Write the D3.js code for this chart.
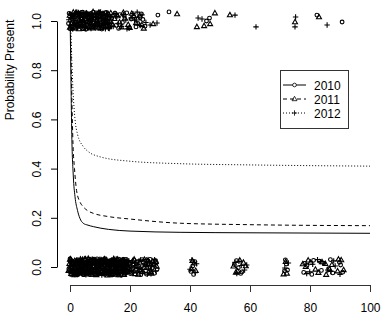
<!DOCTYPE html>
<html><head><meta charset="utf-8">
<script src="https://cdn.jsdelivr.net/npm/d3@7"></script>
<style>
html,body{margin:0;padding:0;background:#fff;}
svg{display:block;font-family:"Liberation Sans",Arial,Helvetica,sans-serif;}
</style></head>
<body><svg id="c" width="392" height="328"></svg>
<script>
// ---- data ----
const years = ["2010", "2011", "2012"];
const xTicks = [0, 20, 40, 60, 80, 100];
const yTicks = [0, 0.2, 0.4, 0.6, 0.8, 1.0];

// fitted curves (x = distance, p = probability present)
const curveX2010 = [0.05, 0.3, 0.56, 1.1, 1.67, 2.5, 3.3, 4.4, 6, 7.8, 12.8, 20, 36.7, 60, 100];
const curveP2010 = [1.0, 0.78, 0.56, 0.37, 0.286, 0.23, 0.198, 0.178, 0.17, 0.164, 0.153, 0.146, 0.141, 0.139, 0.137];
const curveX2011 = [0.05, 0.3, 0.6, 1.0, 1.5, 2.2, 3.3, 4.4, 6, 7.8, 12.8, 20, 36.7, 60, 100];
const curveP2011 = [1.0, 0.88, 0.7, 0.5, 0.4, 0.31, 0.265, 0.245, 0.228, 0.218, 0.205, 0.195, 0.178, 0.172, 0.168];
const curveX2012 = [0.05, 0.3, 0.6, 1.0, 1.67, 2.5, 4.4, 6, 10, 20, 36.7, 60, 100];
const curveP2012 = [1.0, 0.96, 0.84, 0.72, 0.6, 0.54, 0.49, 0.47, 0.448, 0.43, 0.42, 0.415, 0.41];

// observations: absences (y = 0) and presences (y = 1), with plotted jitter
const absX2010 = [0.2,0.9,1.5,2.3,2.8,3.6,4.1,4.9,5.4,6.2,6.8,7.5,8.1,8.7,9.4,10.2,10.8,11.3,12.1,12.6,13.4,14.0,14.7,15.3,16.1,16.6,17.4,18.0,18.7,19.1,
 -0.4,0.5,1.2,1.9,2.6,3.2,3.9,4.5,5.1,5.8,6.5,7.1,7.8,8.4,9.0,9.8,10.5,11.0,11.7,12.4,13.0,13.7,14.4,15.0,15.7,16.4,17.0,17.7,18.3,18.9,
 19.8,20.6,21.3,22.1,22.9,23.6,24.4,25.2,25.9,26.7,27.4,28.2,28.8,21.8,
 40.3,41.6,54.8,56.9,71.8,72.5,78.2,80.6,83.1,86.2,89.8,90.9,
 0.6,1.1,1.8,2.5,3.1,3.7,4.4,5.0,5.7,6.3,7.0,7.6,8.3,8.9,9.5,10.3,10.9,11.6,12.2,12.8,13.5,14.2,14.8,15.6,16.3,16.8,17.6,18.4,19.0,-0.1,
 20.2,21.0,22.5,23.2,24.0,24.8,25.5,26.3,27.0,27.8,28.5,29.0,
 40.9,41.2,55.5,56.1,57.3,71.5,72.1,77.9,79.0,81.2,83.8,84.6,86.8,87.6,90.2,
 0.0,0.7,1.4,2.0,2.7,3.3,4.0,4.6,5.3,5.9,6.6,7.3,7.9,8.6,9.2,9.9,10.5,11.2,11.8,12.5,13.1,13.8,14.5,15.1,15.8,16.5,17.1,17.8,18.5,19.2];
const absJ2010 = [.021,-.014,.003,-.029,.017,.008,-.022,.030,-.006,.012,-.031,.025,-.011,.019,-.002,.027,-.018,.006,-.026,.014,.001,-.033,.023,-.009,.016,-.024,.010,-.004,.031,-.015,
 -.008,.026,-.020,.011,-.032,.004,.018,-.013,.028,-.025,.009,-.003,.022,-.017,.033,-.010,.015,-.028,.024,-.005,.020,.012,-.021,.029,-.012,.005,-.030,.018,-.007,.025,
 .014,-.022,.027,-.009,.003,-.031,.020,-.016,.010,.031,-.004,-.025,.017,.000,
 -.018,.022,.010,-.026,.029,-.012,.015,-.030,.024,-.007,.019,-.021,
 -.001,.018,-.024,.029,-.013,.022,-.031,.007,-.018,.032,-.009,.014,-.027,.003,.023,-.020,.030,-.011,.009,-.030,.026,-.006,.013,-.023,.032,-.016,.004,-.026,.015,-.012,
 -.027,.008,.022,-.014,.030,-.003,-.029,.019,-.019,.012,.026,-.010,
 .004,-.030,.026,-.003,-.020,-.016,.012,-.022,.006,.027,-.014,.016,.030,-.024,.008,
 .033,-.006,-.027,.015,.001,-.019,.027,-.031,.013,.020,-.010,-.024,.031,.009,-.027,.004,-.022,.023,.033,-.017,-.009,.027,-.029,.012,.000,.021,-.034,.031,-.011,.002];
const absX2011 = [0.0,0.6,1.3,2.0,2.5,3.3,3.8,4.6,5.2,5.9,6.6,7.2,7.9,8.5,9.2,9.9,10.6,11.2,11.9,12.5,13.2,13.8,14.5,15.2,15.8,16.5,17.2,17.8,18.5,19.0,
 0.4,1.0,1.7,2.2,3.0,3.5,4.3,4.8,5.6,6.0,6.9,7.4,8.2,8.9,9.6,10.1,10.9,11.5,12.2,12.9,13.5,14.2,14.9,15.5,16.2,16.9,17.5,18.2,18.8,-0.2,
 20.1,20.9,21.7,22.4,23.3,24.0,24.8,25.6,26.3,27.1,27.9,28.6,
 40.8,41.9,55.3,57.8,58.6,71.2,77.6,79.4,81.8,84.0,85.4,87.3,89.2,90.4,
 0.3,0.9,1.6,2.4,2.9,3.6,4.2,4.9,5.5,6.2,6.8,7.5,8.1,8.8,9.4,10.0,10.7,11.3,12.0,12.6,13.3,14.0,14.6,15.3,16.0,16.6,17.3,18.0,18.6,19.2,
 19.7,20.5,21.4,22.8,23.7,25.3,26.0,26.9,27.6,28.9,
 40.5,41.4,54.5,55.9,56.6,71.9,72.3,78.6,80.2,82.8,85.1,86.5,89.5,91.2,
 -0.5,0.2,0.9,1.5,2.2,2.8,3.5,4.1,4.8,5.4,6.1,6.7,7.4,8.0,8.7,9.3,10.0,10.6,11.3,11.9,12.6,13.2,13.9,14.5,15.2,15.8,16.5,17.1,17.8,18.4];
const absJ2011 = [.030,-.019,.007,-.027,.013,-.001,.024,-.015,.032,-.023,.016,-.009,.005,-.031,.021,-.006,.027,-.020,.011,-.034,.019,-.012,.029,.002,-.024,.015,-.017,.026,-.003,.009,
 -.027,.012,-.005,.022,-.016,.031,-.010,.004,-.029,.018,-.021,.028,-.013,.007,-.025,.020,-.001,.032,-.019,.010,-.030,.023,-.008,.017,-.033,.006,.026,-.014,.021,.013,
 -.011,.024,-.028,.006,.019,-.020,.030,-.003,.013,-.026,.008,.021,
 .025,-.015,-.022,.018,.004,-.029,.012,.027,-.010,.020,-.031,.009,-.017,.028,
 .010,-.030,.025,-.016,.002,.019,-.026,.031,-.012,-.002,.027,-.019,.016,-.033,.011,.029,-.014,.021,-.024,.004,.014,-.028,.033,-.018,.008,-.005,.024,-.031,.012,-.021,
 .016,-.007,.031,-.030,-.012,.010,.027,-.020,.023,.002,
 -.008,.015,.003,-.017,.027,.021,-.026,.001,.018,-.023,.013,-.009,.031,-.012,
 -.015,.032,.011,-.033,.025,-.008,-.003,.021,-.022,.006,.034,.002,-.030,.026,-.017,.012,-.026,.000,.029,-.010,.016,-.022,-.004,.020,-.030,.031,.003,-.008,.022,-.018];
const absX2012 = [0.1,0.8,1.4,2.1,2.7,3.4,4.0,4.7,5.3,6.1,6.7,7.3,8.0,8.6,9.3,10.0,10.7,11.4,12.0,12.7,13.3,14.1,14.6,15.4,16.0,16.7,17.3,18.1,18.6,19.3,
 19.6,20.4,21.1,21.9,22.7,23.5,24.2,25.0,25.8,26.5,27.2,28.5,
 40.0,42.2,55.6,56.3,58.9,72.8,79.9,82.5,85.9,88.4,
 -0.3,0.5,1.1,1.8,2.4,3.1,3.7,4.3,5.0,5.6,6.3,6.9,7.6,8.2,8.9,9.5,10.2,10.8,11.5,12.1,12.8,13.4,14.1,14.7,15.4,16.0,16.7,17.4,18.0,18.7,
 0.3,1.0,1.6,2.3,2.9,3.5,4.2,4.8,5.4,6.1,6.7,7.4,8.0,8.7,9.3,9.9,10.6,11.2,11.9,12.5,13.2,13.8,14.5,15.1,15.8,16.4,17.1,17.7,18.4,19.0,
 20.0,20.8,21.6,22.3,23.0,23.9,24.6,25.4,26.2,27.0,27.7,28.2,
 40.6,41.7,55.0,57.1,58.2,71.6,78.9,80.9,83.5,86.9,87.9,90.0];
const absJ2012 = [.004,-.026,.019,-.010,.028,-.021,.013,-.002,-.032,.024,-.016,.009,.031,-.007,-.023,.016,.002,-.030,.027,-.013,.022,-.019,.006,.033,-.027,-.011,.020,.028,-.022,.007,
 .026,-.013,-.024,.017,-.006,.029,-.018,.011,-.029,.022,.003,-.015,
 -.009,.013,-.027,.023,.008,.016,-.020,.030,-.012,.004,
 -.020,.029,-.007,.016,-.029,.010,.026,-.018,.005,-.013,.030,-.025,.018,-.002,.028,-.016,.021,.011,-.008,.031,-.027,.003,.025,-.014,.019,-.031,.012,-.003,.017,-.025,
 .017,-.004,-.031,.024,.009,-.017,.033,-.009,.021,-.027,.006,.032,-.020,.014,-.011,.024,-.033,.017,.001,-.022,.009,.029,-.015,.001,-.025,.028,-.010,.007,-.029,.020,
 -.003,.020,.006,-.021,.025,-.010,.008,.030,-.005,-.028,.016,.030,
 .029,-.023,.019,.006,-.012,-.004,-.027,.011,.022,-.018,.025,-.030];

const presX2010 = [-0.3,0.4,1.0,1.7,2.3,2.9,3.6,4.2,4.8,5.5,6.1,6.8,7.4,8.0,8.7,9.3,10.0,10.6,11.3,11.9,12.6,13.2,13.9,14.5,
 15.4,16.6,17.5,18.9,19.8,21.2,22.6,23.8,25.0,24.3,
 29.3,33.0,46.5,45.5,82.3,90.7,
 -0.5,0.2,0.8,1.4,2.1,2.7,3.4,4.0,4.6,5.3,5.9,6.6,7.2,7.8,8.5,9.1,9.8,10.4,11.1,11.7,12.4,13.0,
 15.0,16.2,18.1,20.4,22.0,23.3,
 0.0,0.6,1.3,1.9,2.6,3.2,3.8,4.5,5.1,5.7,6.4,7.0,7.7,8.3,8.9,9.6,10.2,10.8,11.5,12.1,12.8,13.4];
const presJ2010 = [.031,-.022,.012,-.030,.025,.002,-.015,.036,-.008,.019,-.027,.028,.005,-.019,.033,-.012,.022,-.033,.014,-.004,.030,-.025,.010,.024,
 -.018,.026,-.006,.033,-.028,.015,-.010,.029,-.021,.006,
 .024,.037,.012,.000,.024,-.004,
 -.010,.028,-.031,.017,-.004,.032,-.021,.009,.025,-.034,.014,-.008,.020,.036,-.026,.004,-.016,.027,-.002,.033,-.023,.012,
 .032,-.030,.020,.008,-.024,.014,
 -.031,.009,.026,-.018,.015,-.009,.035,-.026,.021,-.014,.004,.031,-.022,.012,-.001,-.030,.026,.019,-.011,.035,-.006,-.020];
const presX2011 = [0.0,0.7,1.3,2.0,2.6,3.3,3.9,4.5,5.2,5.8,6.5,7.1,7.7,8.4,9.0,9.7,10.3,11.0,11.6,12.3,12.9,13.6,14.2,14.8,
 15.9,17.1,18.3,19.4,20.6,22.0,23.2,24.6,
 35.7,42.3,46.7,44.7,48.3,53.3,75.0,83.0,27.7,
 -0.1,0.5,1.1,1.8,2.4,3.0,3.7,4.3,5.0,5.6,6.3,6.9,7.5,8.2,8.8,9.5,10.1,10.8,11.4,12.1,12.7,13.4,
 16.5,17.8,19.9,21.3,22.7,24.0];
const presJ2011 = [-.026,.017,-.009,.034,-.017,.023,.008,-.031,.027,-.003,.016,-.024,.037,-.013,.021,.003,-.028,.029,-.007,.018,-.020,.032,-.014,.009,
 .020,-.025,.011,-.015,.030,-.008,.022,-.030,
 .028,-.024,-.012,-.020,.032,.024,-.004,.016,-.012,
 .022,-.012,.035,-.025,.010,-.033,.027,.001,-.019,.030,-.006,.013,-.029,.024,-.010,.033,.006,-.022,.017,-.014,.028,-.003,
 -.005,.034,-.027,.021,.011,-.016];
const presX2012 = [0.2,0.9,1.5,2.2,2.8,3.4,4.1,4.7,5.3,6.0,6.6,7.3,7.9,8.6,9.2,9.8,10.5,11.1,11.8,12.4,13.1,13.7,14.4,15.0,
 16.1,17.8,19.0,20.3,21.5,23.4,24.0,25.3,
 29.0,42.7,44.0,55.0,62.0,75.0,75.2,85.7,26.7,
 0.1,0.6,1.2,1.9,2.5,3.2,3.8,4.4,5.1,5.7,6.4,7.0,7.6,8.3,8.9,9.6,10.2,10.9,11.5,12.2,12.8,13.5,
 15.6,17.2,18.6,19.7,21.0,22.4,
 -0.4,0.3,1.0,1.6,2.3,2.9,3.5,4.2,4.8,5.4,6.1,6.7,7.4,8.0,8.6,9.3,9.9,10.6,11.2,11.8,12.5,13.1];
const presJ2012 = [.014,-.033,.026,-.011,.035,-.021,.006,-.027,.018,.030,-.016,.001,.024,-.029,.011,.036,-.019,.008,-.032,.027,-.005,.015,-.023,.031,
 -.009,.027,-.032,.012,.003,-.018,.025,-.006,
 -.008,.012,.008,.024,-.024,-.024,.016,-.016,-.016,
 -.017,.025,-.001,.031,-.028,.015,-.006,.034,-.024,.008,.023,-.031,.012,-.009,.029,-.020,.037,-.013,.004,.026,-.030,.018,
 .018,-.022,.004,-.030,.030,.036,
 .005,-.028,.021,-.007,.036,-.019,.028,-.011,.002,.034,-.029,.019,-.003,-.024,.015,.031,-.008,.010,-.027,.021,.006,-.031];

// ---- chart ----
const svg = d3.select("#c");
const x = d3.scaleLinear().domain([0, 100]).range([70, 370]);
const y = d3.scaleLinear().domain([0, 1]).range([267, 21]);

function pts(xs, js, base, year) {
  const n = Math.min(xs.length, js.length);
  return xs.slice(0, n).map((v, i) => ({x: v, y: base + js[i], year}));
}
const points = [].concat(
  pts(absX2010, absJ2010, 0, "2010"), pts(absX2011, absJ2011, 0, "2011"), pts(absX2012, absJ2012, 0, "2012"),
  pts(presX2010, presJ2010, 1, "2010"), pts(presX2011, presJ2011, 1, "2011"), pts(presX2012, presJ2012, 1, "2012"));

const symPath = {
  "2010": d3.symbol().type(d3.symbolCircle).size(11)(),
  "2011": "M0,-2.7L2.5,1.7L-2.5,1.7Z",
  "2012": "M-2.7,0H2.7M0,-2.7V2.7"
};

svg.append("g").selectAll("path").data(points).join("path")
  .attr("d", d => symPath[d.year])
  .attr("transform", d => `translate(${x(d.x)},${y(d.y)})`)
  .attr("fill", "none").attr("stroke", "#000").attr("stroke-width", 1.1);

const dash = {"2010": null, "2011": "4,3", "2012": "1,2"};
const curves = [
  {year: "2010", xs: curveX2010, ps: curveP2010},
  {year: "2011", xs: curveX2011, ps: curveP2011},
  {year: "2012", xs: curveX2012, ps: curveP2012}
];
const line = d3.line().x(d => x(d[0])).y(d => y(d[1])).curve(d3.curveMonotoneX);
svg.append("g").selectAll("path").data(curves).join("path")
  .attr("d", c => line(c.xs.map((v, i) => [v, c.ps[i]])))
  .attr("fill", "none").attr("stroke", "#000").attr("stroke-width", 1)
  .attr("stroke-dasharray", c => dash[c.year]);

// axes
const gx = svg.append("g").attr("transform", "translate(0,285)")
  .call(d3.axisBottom(x).tickValues(xTicks).tickSize(7).tickSizeOuter(0).tickPadding(3));
gx.selectAll("text").attr("y", 18).attr("font-size", 12).attr("font-family", "Liberation Sans, Arial, sans-serif").attr("fill", "#000");
gx.selectAll("path,line").attr("stroke", "#333");

const gy = svg.append("g").attr("transform", "translate(57,0)")
  .call(d3.axisLeft(y).tickValues(yTicks).tickFormat(d3.format(".1f")).tickSize(6).tickSizeOuter(0));
gy.selectAll("text").attr("x", null).attr("dy", null).attr("text-anchor", "middle")
  .attr("transform", "translate(-16,0) rotate(-90)")
  .attr("font-size", 12).attr("font-family", "Liberation Sans, Arial, sans-serif").attr("fill", "#000");
gy.selectAll("path,line").attr("stroke", "#000");

svg.append("text").attr("transform", "translate(14,70) rotate(-90)")
  .attr("text-anchor", "middle").attr("font-size", 12).attr("fill", "#000")
  .text("Probability Present");

// legend
const lg = svg.append("g");
lg.append("rect").attr("x", 280.5).attr("y", 70.5).attr("width", 68).attr("height", 58)
  .attr("fill", "#fff").attr("stroke", "#333").attr("stroke-width", 1);
years.forEach((yr, i) => {
  const cy = 85 + i * 14;
  lg.append("line").attr("x1", 283).attr("x2", 306).attr("y1", cy).attr("y2", cy)
    .attr("stroke", "#000").attr("stroke-width", 1).attr("stroke-dasharray", dash[yr]);
  lg.append("path").attr("d", symPath[yr]).attr("transform", `translate(294.5,${cy})`)
    .attr("fill", yr === "2010" ? "#fff" : "none").attr("stroke", "#000").attr("stroke-width", 0.8);
  lg.append("text").attr("x", 314).attr("y", cy + 4.5).attr("font-size", 12).attr("fill", "#000").text(yr);
});
</script></body></html>
